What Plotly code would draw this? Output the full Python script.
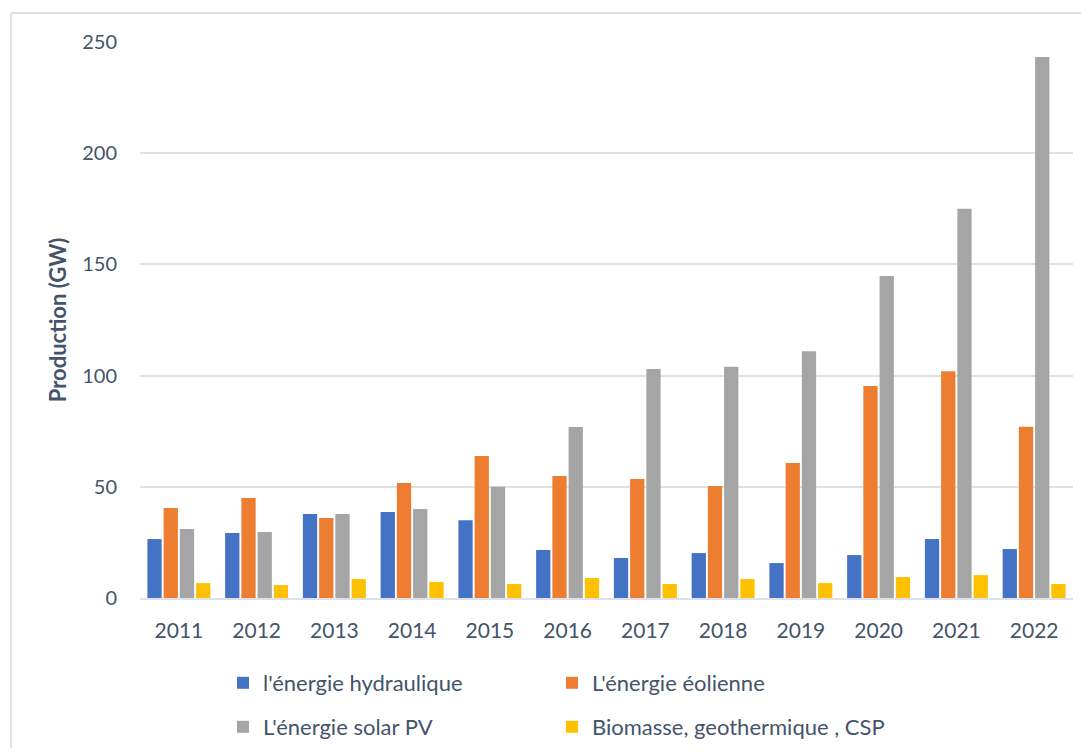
import plotly.graph_objects as go

years = ["2011", "2012", "2013", "2014", "2015", "2016", "2017", "2018", "2019", "2020", "2021", "2022"]
hydro = [26.5, 29.2, 37.8, 38.7, 35.0, 21.6, 18.0, 20.2, 15.7, 19.3, 26.5, 22.0]
wind = [40.5, 45.0, 36.0, 51.7, 63.8, 54.9, 53.5, 50.4, 60.7, 95.3, 102.0, 77.0]
solar = [31.0, 29.7, 37.8, 40.0, 50.0, 76.9, 103.0, 104.0, 111.0, 144.8, 175.0, 243.3]
bio = [6.7, 5.8, 8.5, 7.2, 6.3, 9.0, 6.3, 8.5, 6.7, 9.4, 10.3, 6.3]

names = ["l'énergie hydraulique", "L'énergie éolienne", "L'énergie solar PV", "Biomasse, geothermique , CSP"]
colors = ["#4472C4", "#ED7D31", "#A5A5A5", "#FFC000"]
series = [hydro, wind, solar, bio]
legend_ids = ["legend", "legend2", "legend3", "legend4"]

TXT = "#44546A"
FONT = "Lato"

# page has an 8px body margin; figure coordinates = screen - 8
W, H = 1073, 740
L, R, T, B = 132, 8, 34, 150
pw = W - L - R
ph = H - T - B

def px_x(p):
    return (p - L) / pw

def px_y(p):
    return (H - B - p) / ph

fig = go.Figure()
for n, c, s, lg in zip(names, colors, series, legend_ids):
    fig.add_trace(go.Bar(x=years, y=s, name=n, marker=dict(color=c, line=dict(width=0)), legend=lg))

leg_pos = [(215, 675), (544, 675), (215, 719), (544, 719)]
leg_layout = {}
for lg, (lx, ly) in zip(legend_ids, leg_pos):
    leg_layout[lg] = dict(x=px_x(lx), xanchor="left", y=px_y(ly), yanchor="middle",
                          orientation="h", bgcolor="rgba(0,0,0,0)",
                          font=dict(family=FONT, size=22, color=TXT))

fig.update_layout(
    width=W, height=H,
    margin=dict(l=L, r=R, t=T, b=B, autoexpand=False),
    paper_bgcolor="white", plot_bgcolor="white",
    font=dict(family=FONT, color=TXT, size=20),
    barmode="group", bargap=0.165, bargroupgap=0.12,
    showlegend=True,
    **leg_layout,
)

fig.update_yaxes(
    range=[0, 250], dtick=50, showgrid=True, gridcolor="#DDE2EA", gridwidth=2,
    zeroline=False, showline=False, ticks="", ticklabelstandoff=22,
    tickfont=dict(family=FONT, size=20, color=TXT),
    title=dict(text="<b>Production (GW)</b>", font=dict(family=FONT, size=22, color=TXT), standoff=9),
)
fig.update_xaxes(
    showgrid=False, showline=True, linecolor="#DDE2EA", linewidth=2, ticks="",
    ticklabelstandoff=13, tickfont=dict(family=FONT, size=21, color=TXT),
)

fig.add_shape(type="line", xref="paper", yref="paper",
              x0=px_x(3), x1=px_x(3), y0=px_y(5), y1=px_y(780),
              line=dict(color="#DDE2EA", width=2))
fig.add_shape(type="line", xref="paper", yref="paper",
              x0=px_x(3), x1=px_x(1100), y0=px_y(5), y1=px_y(5),
              line=dict(color="#DDE2EA", width=2))

fig.write_html("out.html")
